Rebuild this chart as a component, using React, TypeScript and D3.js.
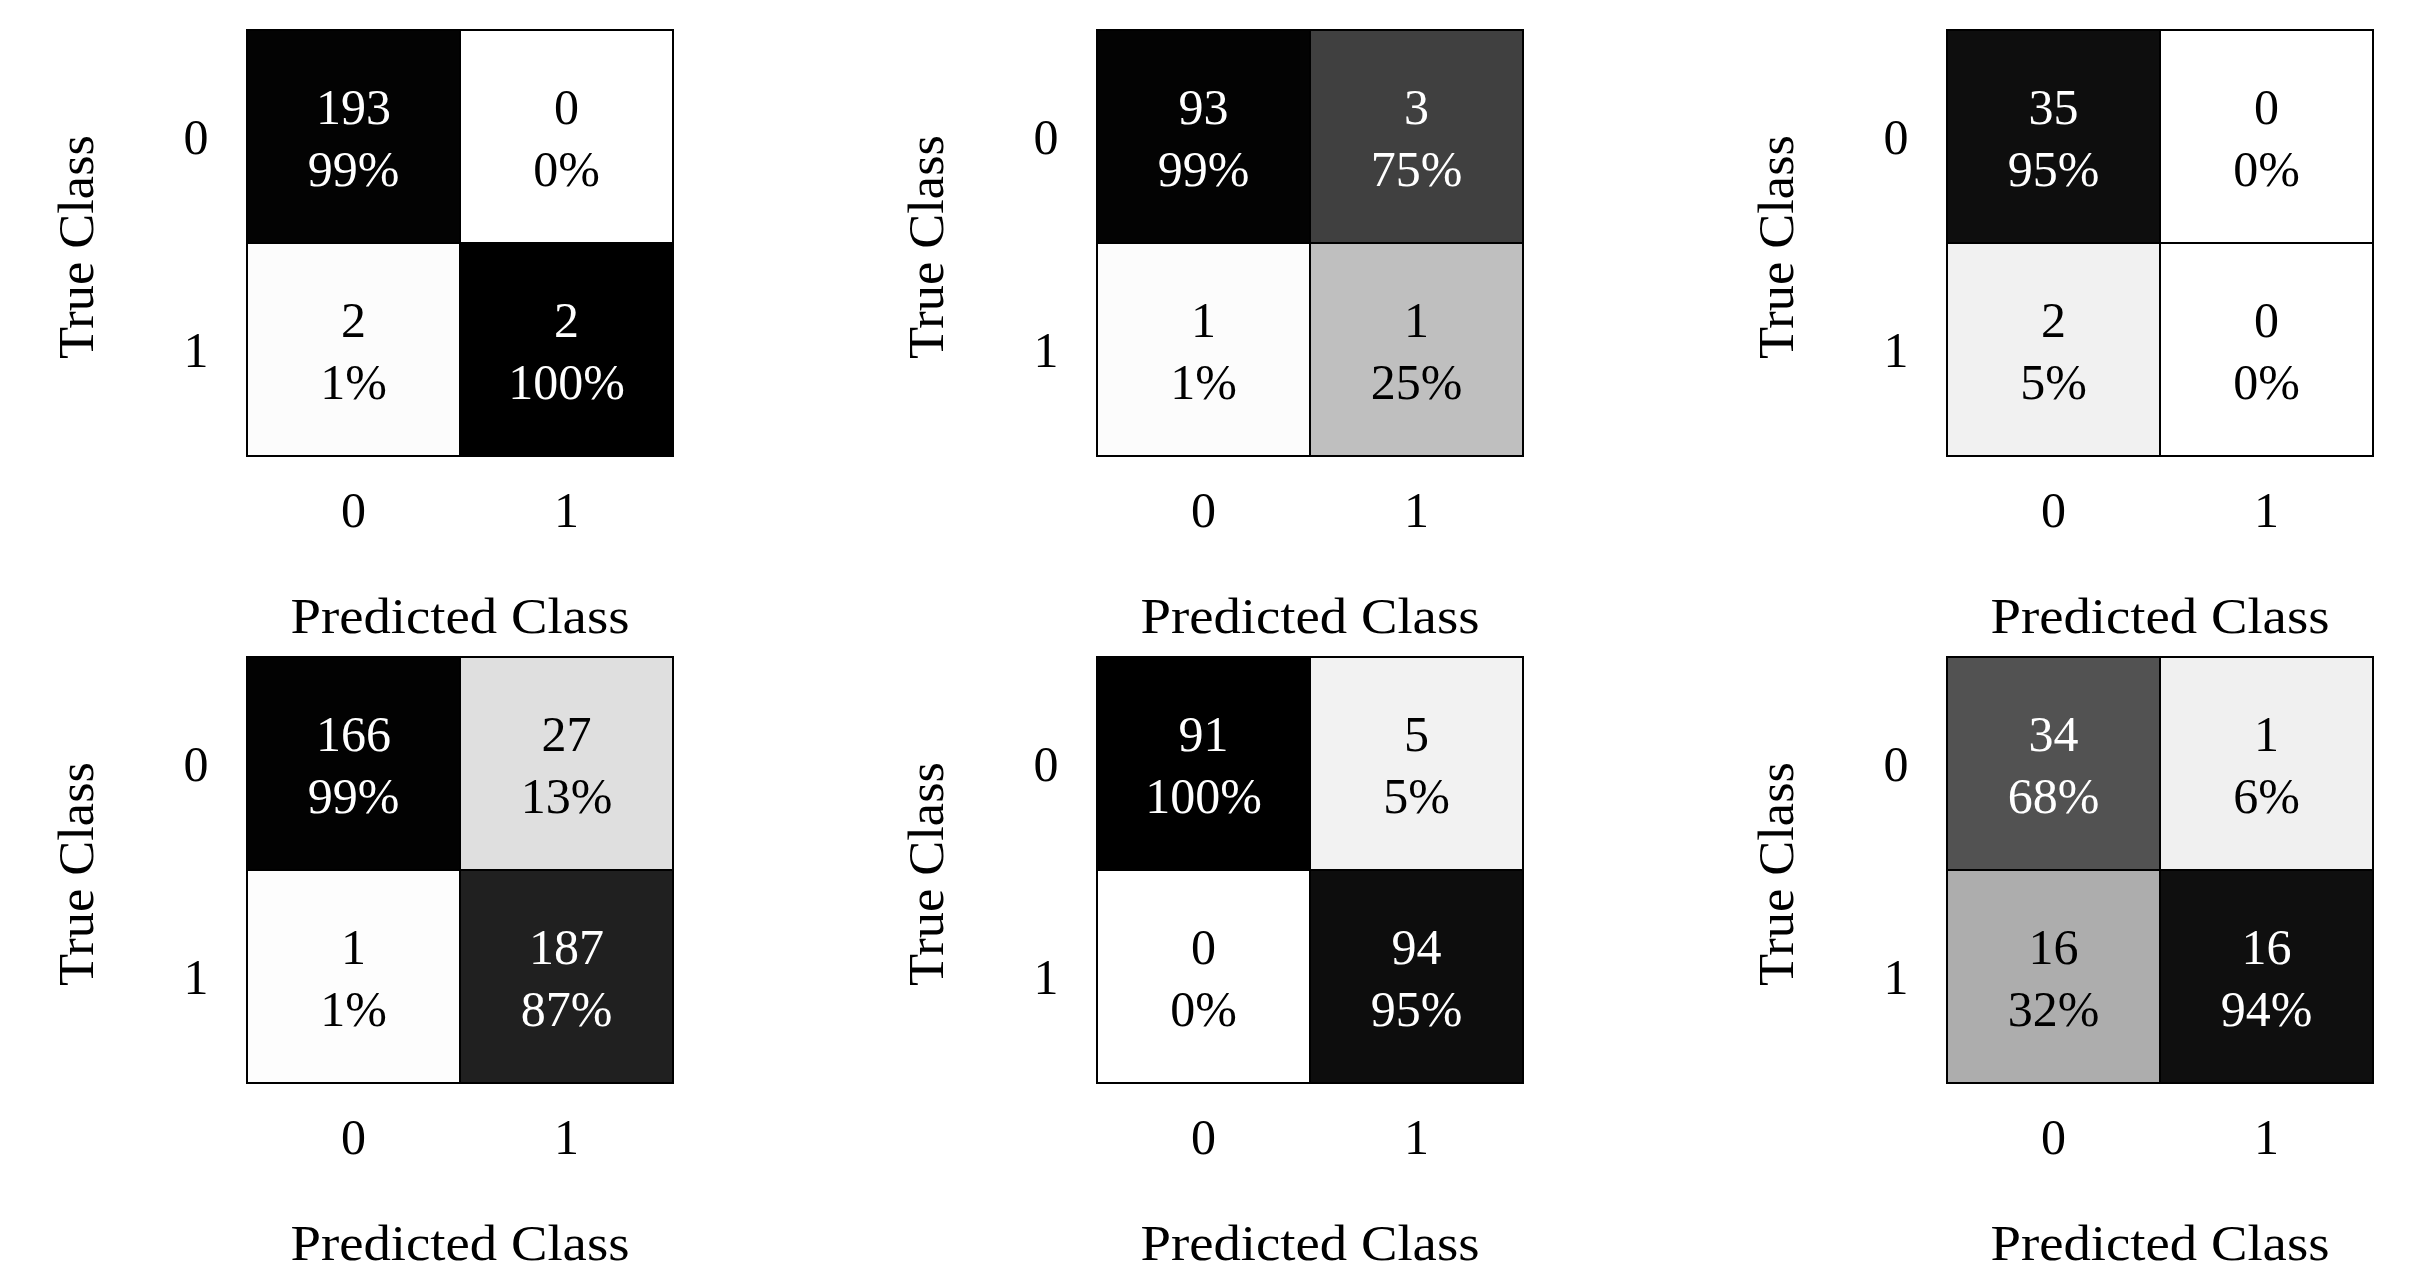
import React from "react";
import * as d3 from "d3";

// ---- Data ----
const classLabels = ["0", "1"];
// rows = true class, cols = predicted class
const cmTopLeft = [[193, 0], [2, 2]];
const cmTopMid = [[93, 3], [1, 1]];
const cmTopRight = [[35, 0], [2, 0]];
const cmBotLeft = [[166, 27], [1, 187]];
const cmBotMid = [[91, 5], [0, 94]];
const cmBotRight = [[34, 1], [16, 16]];
const xAxisTitle = "Predicted Class";
const yAxisTitle = "True Class";

const matrices = [cmTopLeft, cmTopMid, cmTopRight, cmBotLeft, cmBotMid, cmBotRight];

// ---- Layout ----
const W = 2415;
const H = 1288;
const panelLeft = [247, 1097, 1947];
const panelTop = [30, 657];
const size = 426;
const FONT = "'Liberation Serif', 'Times New Roman', serif";
const FS = 50;

const gray = d3.scaleLinear<string>().domain([0, 1]).range(["#ffffff", "#000000"]).interpolate(d3.interpolateRgb);

function Matrix({ data, x0, y0 }: { data: number[][]; x0: number; y0: number }) {
  const xb = d3.scaleBand<string>().domain(classLabels).range([0, size]);
  const yb = d3.scaleBand<string>().domain(classLabels).range([0, size]);
  const colTotals = classLabels.map((_, j) => d3.sum(data, (row) => row[j]));
  const cells: { i: number; j: number; v: number; p: number }[] = [];
  data.forEach((row, i) =>
    row.forEach((v, j) => {
      const p = colTotals[j] > 0 ? v / colTotals[j] : 0;
      cells.push({ i, j, v, p });
    })
  );
  const bw = xb.bandwidth();
  return (
    <g transform={`translate(${x0},${y0})`}>
      {cells.map((c) => (
        <rect
          key={`r${c.i}${c.j}`}
          x={xb(classLabels[c.j])}
          y={yb(classLabels[c.i])}
          width={bw}
          height={yb.bandwidth()}
          fill={gray(c.p)}
          stroke="#000"
          strokeWidth={2}
        />
      ))}
      {cells.map((c) => {
        const cx = (xb(classLabels[c.j]) as number) + bw / 2;
        const cy = (yb(classLabels[c.i]) as number) + yb.bandwidth() / 2;
        const col = c.p > 0.5 ? "#fff" : "#000";
        return (
          <g key={`t${c.i}${c.j}`} fill={col} fontSize={FS} textAnchor="middle">
            <text x={cx} y={cy - 13}>{c.v}</text>
            <text x={cx} y={cy + 49}>{`${Math.round(c.p * 100)}%`}</text>
          </g>
        );
      })}
      <rect x={0} y={0} width={size} height={size} fill="none" stroke="#000" strokeWidth={2} />
      {classLabels.map((l) => (
        <text
          key={`xt${l}`}
          x={(xb(l) as number) + bw / 2}
          y={size + 71}
          fontSize={FS}
          textAnchor="middle"
          fill="#000"
        >
          {l}
        </text>
      ))}
      {classLabels.map((l) => (
        <text
          key={`yt${l}`}
          x={-51}
          y={(yb(l) as number) + yb.bandwidth() / 2 + 17}
          fontSize={FS}
          textAnchor="middle"
          fill="#000"
        >
          {l}
        </text>
      ))}
      <text
        x={size / 2}
        y={size + 177}
        fontSize={FS}
        textAnchor="middle"
        textLength={339}
        lengthAdjust="spacingAndGlyphs"
        fill="#000"
      >
        {xAxisTitle}
      </text>
      <text
        transform={`translate(-154,${size / 2 + 4}) rotate(-90)`}
        fontSize={FS}
        textAnchor="middle"
        textLength={224}
        lengthAdjust="spacingAndGlyphs"
        fill="#000"
      >
        {yAxisTitle}
      </text>
    </g>
  );
}

export default function App() {
  return (
    <svg
      width={W}
      height={H}
      viewBox={`0 0 ${W} ${H}`}
      style={{ position: "absolute", left: 0, top: 0, background: "#fff" }}
      fontFamily={FONT}
    >
      <rect width={W} height={H} fill="#fff" />
      {matrices.map((m, k) => (
        <Matrix key={k} data={m} x0={panelLeft[k % 3]} y0={panelTop[Math.floor(k / 3)]} />
      ))}
    </svg>
  );
}
